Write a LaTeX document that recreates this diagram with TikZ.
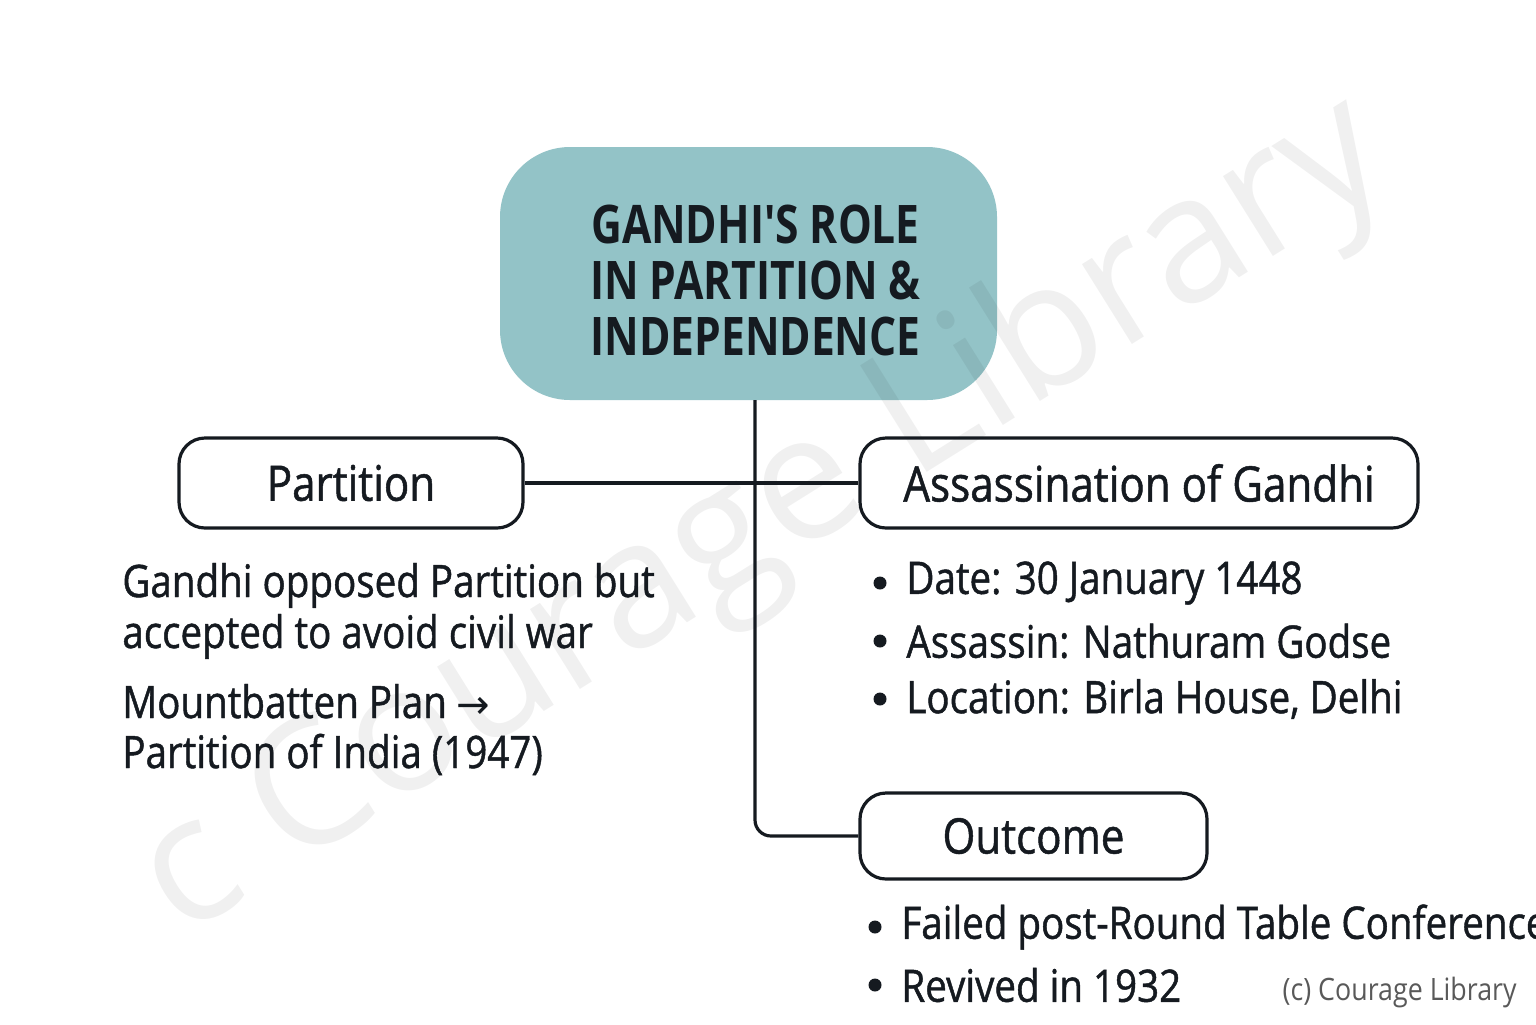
\documentclass[tikz,border=0pt]{standalone}
\usepackage{fontspec}
\setmainfont{Open Sans}[FakeStretch=0.86, FakeBold=1.0]
\newfontfamily\titlefont{Open Sans}[FakeStretch=0.8]
\newfontfamily\markfont{Open Sans}
\newfontfamily\symfont{DejaVu Sans}
\newfontfamily\creditfont{Open Sans}[FakeStretch=0.87]
\usetikzlibrary{positioning}
\definecolor{boxteal}{HTML}{93C3C7}
\definecolor{inkdark}{HTML}{151A20}
\tikzset{
  topic/.style={draw=inkdark, line width=1.6pt, rounded corners=13pt, minimum height=45pt, inner sep=0pt,
    font=\fontsize{24.5}{28}\selectfont, text=inkdark},
  note/.style={anchor=base west, inner sep=0pt, font=\fontsize{22.4}{26}\selectfont, text=inkdark},
  link/.style={draw=inkdark, line width=1.6pt},
  dot/.style={circle, fill=inkdark, inner sep=0pt, minimum size=6.5pt},
}

\begin{document}
\begin{tikzpicture}[x=0.5pt, y=-0.5pt]
    \useasboundingbox (0,0) rectangle (1536,1024);
    \clip (0,0) rectangle (1536,1024);
    % central topic
    \node[fill=boxteal, rounded corners=35pt, minimum width=248.5pt, minimum height=126.5pt, inner sep=0pt,
        align=center, text=inkdark, font=\titlefont\bfseries\fontsize{26.6}{28}\selectfont] (title) at (748.5,273.5)
        {\rule{0pt}{26pt}\hspace{7pt}GANDHI'S ROLE\\\hspace{7pt}IN PARTITION \&\\\hspace{7pt}INDEPENDENCE};
    % watermark
    \node[rotate=32, font=\markfont\fontsize{88}{90}\selectfont, text=black, text opacity=0.06] (mark) at (765,520) {c Courage Library};
    % branches
    \node[topic, minimum width=172pt] (partition) at (351,483) {Partition};
    \node[topic, minimum width=279pt] (assassination) at (1139,483) {Assassination of Gandhi};
    \node[topic, minimum width=173.5pt, minimum height=43pt] (outcome) at (1033.5,836) {Outcome};
    \coordinate (trunk) at (755,400);
    \draw[link] (partition.east) -- (assassination.west);
    \draw[link, rounded corners=8pt] (trunk) |- (outcome.west);
    % partition notes
    \node[note] (opposed) at (122,597) {Gandhi opposed Partition but};
    \node[note] (accepted) at (122,648) {accepted to avoid civil war};
    \node[note] (plan) at (122,718) {Mountbatten Plan {\symfont\fontsize{20}{24}\selectfont →}};
    \node[note] (india) at (122,768) {Partition of India (1947)};
    % assassination notes
    \node[dot] (dot1) at (880,583) {};
    \node[note, right=13pt of dot1.center, anchor=west] (date) {Date: 30 January 1448};
    \node[dot] (dot2) at (880,641) {};
    \node[note, right=13pt of dot2.center, anchor=west] (assassin) {Assassin: Nathuram Godse};
    \node[dot] (dot3) at (880,699) {};
    \node[note, right=13pt of dot3.center, anchor=west] (location) {Location: Birla House, Delhi};
    % outcome notes
    \node[dot] (dot4) at (875,927) {};
    \node[note, right=13pt of dot4.center, anchor=west] (failed) {Failed post-Round Table Conference};
    \node[dot] (dot5) at (875,985) {};
    \node[note, right=13pt of dot5.center, anchor=west] (revived) {Revived in 1932};
    \node[anchor=base east, inner sep=0pt, text=black!65, font=\creditfont\fontsize{15.4}{18}\selectfont] (credit) at (1517,1000) {(c) Courage Library};
\end{tikzpicture}
\end{document}
